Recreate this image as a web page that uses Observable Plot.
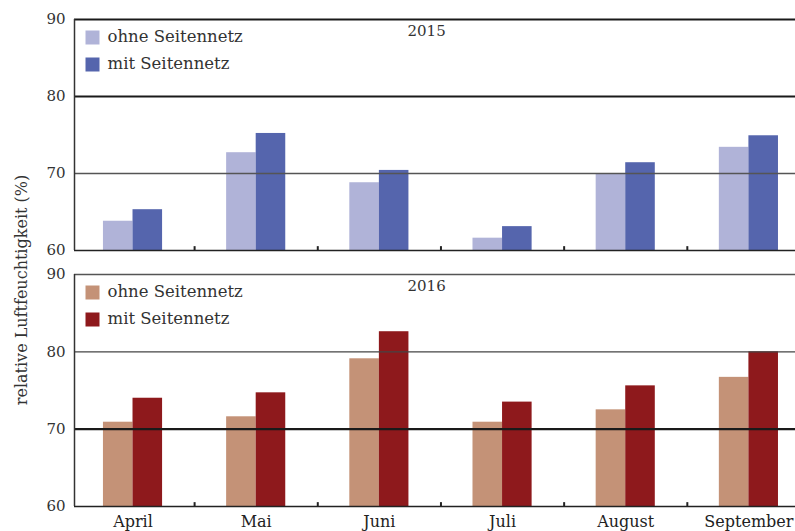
<!DOCTYPE html>
<html>
<head>
<meta charset="utf-8">
<script src="https://cdn.jsdelivr.net/npm/d3@7"></script>
<script src="https://cdn.jsdelivr.net/npm/@observablehq/plot@0.6"></script>
<style>
  body { margin: 0; overflow: hidden; background: #fff; }
  #wrap { position: relative; width: 795px; height: 531px; overflow: hidden; }
  #wrap svg { display: block; }
  #ylab { position: absolute; left: 21px; top: 290px; transform: translate(-50%, -50%) rotate(-90deg);
          font: 16px "DejaVu Serif", serif; color: #333; white-space: nowrap; }
</style>
</head>
<body>
<div id="wrap"><div id="ylab">relative Luftfeuchtigkeit (%)</div></div>
<script>
// ---- data ----
const months = ["April", "Mai", "Juni", "Juli", "August", "September"];
const series = ["ohne Seitennetz", "mit Seitennetz"];
const ohne2015 = [63.8, 72.7, 68.8, 61.6, 70.0, 73.4];
const mit2015  = [65.3, 75.2, 70.4, 63.1, 71.4, 74.9];
const ohne2016 = [70.9, 71.6, 79.1, 70.9, 72.5, 76.7];
const mit2016  = [74.0, 74.7, 82.6, 73.5, 75.6, 80.0];
const yTicks = [60, 70, 80, 90];
const years = ["2015", "2016"];

const FONT = '"DejaVu Serif", serif';
const idx = months.map((m, i) => i);
const bounds = months.slice(1).map((m, i) => i + 0.5);
const W = 0.24; // bar width in category units

function panel({ohne, mit, year, light, dark, height, marginTop, marginBottom, lines, showX}) {
  const rowsOhne = months.map((m, i) => ({i, month: m, v: ohne[i]}));
  const rowsMit = months.map((m, i) => ({i, month: m, v: mit[i]}));
  const colors = [light, dark];
  const legendDy = [18, 45];
  const marks = [
    Plot.rect(rowsOhne, {x1: d => d.i - W, x2: d => d.i, y1: 60, y2: "v", fill: light}),
    Plot.rect(rowsMit, {x1: d => d.i, x2: d => d.i + W, y1: 60, y2: "v", fill: dark}),
    ...lines.map(l => Plot.ruleY([l.v], {stroke: l.c, strokeWidth: l.w})),
    Plot.ruleY([60], {stroke: "#222", strokeWidth: 1.6}),
    Plot.ruleX([-0.475], {y1: 60, y2: 90, stroke: "#333", strokeWidth: 1.5}),
    Plot.ruleX(bounds, {y1: 60, y2: 60.5, stroke: "#222", strokeWidth: 2}),
    Plot.axisY({ticks: yTicks, tickSize: 0, tickPadding: 9, fontSize: 15, label: null, fill: "#333"}),
    // legend
    ...series.map((s, k) => Plot.dot([s], {frameAnchor: "top-left", dx: 18, dy: legendDy[k],
        symbol: "square", r: 7.9, fill: colors[k]})),
    ...series.map((s, k) => Plot.text([s], {frameAnchor: "top-left", dx: 33, dy: legendDy[k] - 1,
        text: d => d, textAnchor: "start", lineAnchor: "middle", fontSize: 16.5, fill: "#333"})),
    Plot.text([year], {frameAnchor: "top-left", dx: 333, dy: 12, text: d => d, textAnchor: "start",
                       lineAnchor: "middle", fontSize: 15, fill: "#333"})
  ];
  if (showX) {
    marks.push(Plot.axisX({ticks: idx, tickFormat: i => months[i], tickSize: 0, tickPadding: 9,
                           fontSize: 16, fill: "#222", label: null}));
  }
  return Plot.plot({
    width: 795, height, marginLeft: 74, marginRight: 0, marginTop, marginBottom,
    style: {fontFamily: FONT, background: "#fff", overflow: "hidden"},
    x: {type: "linear", domain: [-0.475, 5.5], range: [74, 810], axis: null},
    y: {domain: [60, 90], axis: null},
    marks
  });
}

const wrap = document.getElementById("wrap");
wrap.appendChild(panel({
  ohne: ohne2015, mit: mit2015, year: years[0], light: "#b0b3d8", dark: "#5565ad",
  height: 262, marginTop: 19, marginBottom: 12, showX: false,
  lines: [{v: 90, c: "#1a1a1a", w: 2.2}, {v: 80, c: "#1a1a1a", w: 2.2}, {v: 70, c: "#555", w: 1.6}]
}));
wrap.appendChild(panel({
  ohne: ohne2016, mit: mit2016, year: years[1], light: "#c49277", dark: "#8e191c",
  height: 269, marginTop: 12, marginBottom: 25, showX: true,
  lines: [{v: 90, c: "#555", w: 1.3}, {v: 80, c: "#444", w: 1.3}, {v: 70, c: "#1a1a1a", w: 2.2}]
}));
</script>
</body>
</html>
